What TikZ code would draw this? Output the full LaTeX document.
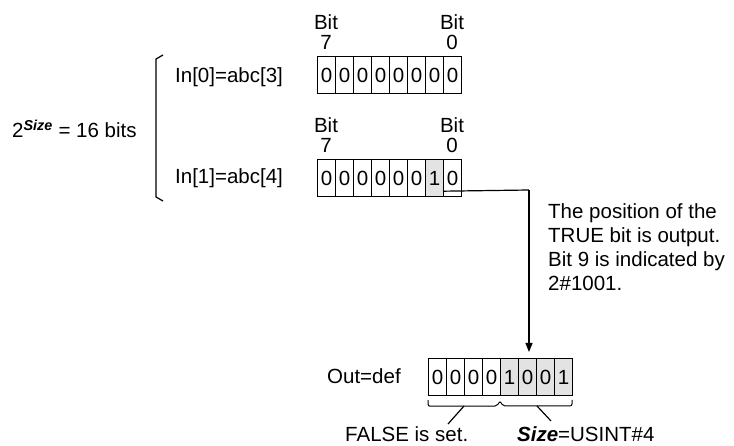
\documentclass[tikz,border=0pt]{standalone}
\usepackage{fontspec}
\setmainfont{Liberation Sans}
\usetikzlibrary{arrows.meta,calc}
\begin{document}
\begin{tikzpicture}[x=1pt,y=-1pt,
  every node/.style={font=\fontsize{20.5}{24}\selectfont, inner sep=0pt},
  cell/.style={draw, line width=1.2pt, minimum width=18pt, minimum height=37pt, anchor=north west, inner sep=0pt},
  hl/.style={fill=black!11},
  ln/.style={line width=1.2pt},
  conn/.style={line width=1.2pt, -{Triangle[length=9pt,width=7pt]}},
  bitlbl/.style={align=center, anchor=south, font=\fontsize{20.5}{20}\selectfont},
]
\path[use as bounding box] (0,0) rectangle (734,446);

% register In[0]
\foreach \i in {0,...,7} {
  \node[cell] (a\i) at ({317+18*\i},56) {0};
}
% register In[1]
\foreach \i/\v in {0/0,1/0,2/0,3/0,4/0,5/0,7/0} {
  \node[cell] (b\i) at ({317+18*\i},159) {\v};
}
\node[cell,hl] (b6) at ({317+18*6},159) {1};

% register Out
\foreach \i/\v in {0/0,1/0,2/0,3/0} {
  \node[cell] (o\i) at ({428+18*\i},358) {\v};
}
\foreach \i/\v in {4/1,5/0,6/0,7/1} {
  \node[cell,hl] (o\i) at ({428+18*\i},358) {\v};
}

% bit labels
\node[bitlbl] (a7l) at (326,50) {Bit\\7};
\node[bitlbl] (a0l) at (452,50) {Bit\\0};
\node[bitlbl] (b7l) at (326,153) {Bit\\7};
\node[bitlbl] (b0l) at (452,153) {Bit\\0};

% row labels
\node[anchor=base west] (in0) at (175,82.5) {In[0]=abc[3]};
\node[anchor=base west] (in1) at (175,184) {In[1]=abc[4]};
\node[anchor=base west] (outl) at (327,384) {Out=def};
\node[anchor=base west] (size) at (12,138) {2\textsuperscript{\bfseries\itshape Size} = 16 bits};

% left bracket
\coordinate (bt) at (163,55);
\coordinate (bb) at (163,201);
\draw[ln] (bt) -- (156,59) -- (156,197) -- (bb);

% connector
\coordinate (cstart) at ([yshift=6pt]b7.south west);
\coordinate (cbend) at (529,190);
\coordinate (ctip) at (529,352);
\draw[ln] (cstart) -- (cbend);
\draw[conn] (cbend) -- (ctip);

% explanation
\node[anchor=north west, align=left] (expl) at (548,203) {The position of the\\TRUE bit is output.\\Bit 9 is indicated by\\2\#1001.};

% braces under Out
\draw[line width=1pt, rounded corners=2pt] (o0.south west) ++(0,4) -- ++(0,6) -- (497,406) -- (500,401) -- (503,406) -- (572,406) -- (572,400);
\coordinate (pl1) at (464,406);
\coordinate (pl2) at (448,424);
\coordinate (pr1) at (537,406);
\coordinate (pr2) at (551,421);
\draw[ln] (pl1) -- (pl2);
\draw[ln] (pr1) -- (pr2);

\node[anchor=base west] (falsel) at (345,441) {FALSE is set.};
\node[anchor=base west] (sizel) at (517,441) {{\bfseries\itshape Size}=USINT\#4};
\end{tikzpicture}
\end{document}
